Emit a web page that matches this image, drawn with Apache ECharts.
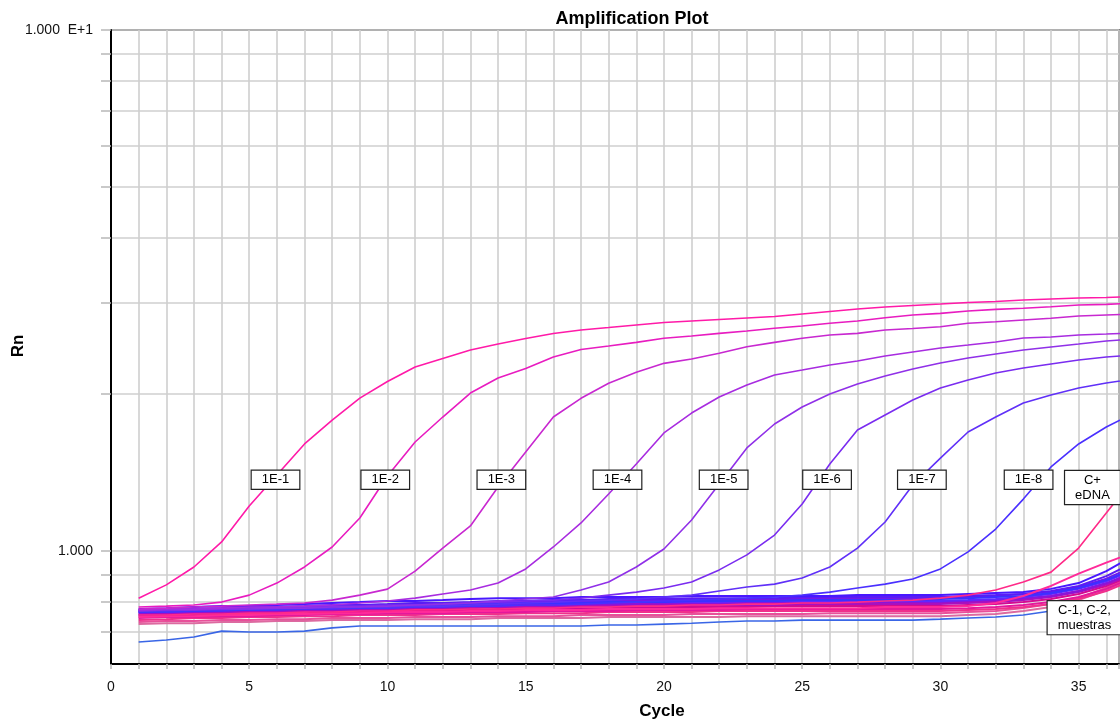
<!DOCTYPE html>
<html>
<head>
<meta charset="utf-8">
<script src="https://cdn.jsdelivr.net/npm/echarts@6/dist/echarts.min.js"></script>
<style>
html,body{margin:0;padding:0;background:#fff;}
#chart{width:1120px;height:720px;}
</style>
</head>
<body>
<div id="chart"></div>
<script>
// ---- data (Rn per cycle) ----
const cycles = [1,2,3,4,5,6,7,8,9,10,11,12,13,14,15,16,17,18,19,20,21,22,23,24,25,26,27,28,29,30,31,32,33,34,35,36,37];

const dil1 = [0.812,0.861,0.932,1.041,1.220,1.399,1.605,1.784,1.966,2.115,2.255,2.342,2.431,2.496,2.558,2.615,2.656,2.685,2.715,2.745,2.764,2.782,2.801,2.819,2.850,2.882,2.914,2.940,2.960,2.979,2.999,3.012,3.032,3.046,3.059,3.066,3.080];
const dil2 = [0.781,0.784,0.788,0.798,0.823,0.868,0.932,1.018,1.157,1.393,1.619,1.808,2.010,2.148,2.240,2.357,2.437,2.475,2.515,2.560,2.586,2.617,2.644,2.676,2.703,2.736,2.764,2.804,2.838,2.859,2.888,2.910,2.923,2.944,2.966,2.975,2.989];
const dil3 = [0.774,0.777,0.781,0.784,0.788,0.791,0.795,0.805,0.823,0.845,0.915,1.013,1.117,1.327,1.549,1.808,1.964,2.099,2.203,2.292,2.336,2.396,2.467,2.515,2.560,2.598,2.617,2.656,2.674,2.695,2.736,2.755,2.776,2.797,2.825,2.838,2.850];
const dil4 = [0.771,0.774,0.774,0.777,0.781,0.781,0.784,0.788,0.795,0.802,0.812,0.827,0.842,0.868,0.924,1.018,1.132,1.287,1.469,1.685,1.840,1.975,2.083,2.177,2.225,2.275,2.316,2.367,2.410,2.453,2.485,2.519,2.564,2.575,2.598,2.609,2.621];
const dil5 = [0.767,0.771,0.771,0.774,0.774,0.777,0.777,0.781,0.781,0.784,0.788,0.791,0.795,0.802,0.809,0.816,0.842,0.872,0.932,1.009,1.147,1.345,1.577,1.753,1.890,2.002,2.092,2.167,2.235,2.295,2.347,2.389,2.431,2.464,2.496,2.530,2.552];
const dil6 = [0.771,0.774,0.774,0.777,0.777,0.781,0.781,0.784,0.784,0.788,0.788,0.791,0.795,0.798,0.802,0.805,0.812,0.823,0.834,0.849,0.872,0.920,0.983,1.073,1.231,1.469,1.707,1.824,1.949,2.055,2.129,2.196,2.245,2.285,2.326,2.357,2.378];
const dil7 = [0.767,0.767,0.771,0.771,0.774,0.774,0.777,0.777,0.781,0.781,0.784,0.784,0.788,0.791,0.795,0.798,0.802,0.805,0.809,0.816,0.823,0.838,0.853,0.864,0.888,0.932,1.013,1.137,1.339,1.508,1.692,1.808,1.924,1.993,2.055,2.101,2.139];
const dil8 = [0.764,0.764,0.767,0.767,0.771,0.771,0.774,0.774,0.777,0.777,0.781,0.781,0.784,0.784,0.788,0.788,0.791,0.795,0.798,0.802,0.805,0.809,0.812,0.816,0.823,0.834,0.849,0.864,0.884,0.924,0.996,1.102,1.258,1.450,1.605,1.730,1.840];
const cPlus = [0.754,0.754,0.757,0.757,0.760,0.760,0.764,0.764,0.767,0.767,0.771,0.771,0.774,0.774,0.777,0.777,0.781,0.781,0.784,0.784,0.788,0.788,0.791,0.791,0.795,0.795,0.798,0.802,0.805,0.812,0.823,0.842,0.872,0.911,1.013,1.183,1.381];
const lowBlue = [0.669,0.675,0.684,0.702,0.699,0.699,0.702,0.712,0.718,0.718,0.718,0.718,0.718,0.718,0.718,0.718,0.718,0.721,0.721,0.724,0.727,0.731,0.734,0.734,0.737,0.737,0.737,0.737,0.737,0.740,0.744,0.747,0.754,0.767,0.781,0.795,0.812];

const band1 = [0.774,0.777,0.781,0.784,0.784,0.788,0.791,0.795,0.798,0.802,0.802,0.805,0.809,0.812,0.812,0.812,0.816,0.816,0.816,0.816,0.820,0.820,0.820,0.820,0.820,0.820,0.823,0.823,0.823,0.823,0.827,0.831,0.834,0.846,0.868,0.915,0.980];
const band2 = [0.771,0.771,0.774,0.777,0.781,0.781,0.784,0.788,0.788,0.791,0.795,0.795,0.798,0.802,0.802,0.805,0.805,0.809,0.809,0.809,0.812,0.812,0.812,0.812,0.816,0.816,0.816,0.816,0.816,0.816,0.820,0.823,0.827,0.838,0.857,0.895,0.950];
const band3 = [0.767,0.771,0.771,0.774,0.774,0.777,0.781,0.781,0.784,0.788,0.788,0.791,0.795,0.798,0.798,0.798,0.802,0.802,0.805,0.805,0.805,0.809,0.809,0.809,0.809,0.812,0.812,0.812,0.812,0.812,0.816,0.820,0.827,0.834,0.853,0.885,0.935];
const band4 = [0.764,0.767,0.767,0.771,0.774,0.774,0.777,0.777,0.781,0.784,0.784,0.788,0.791,0.791,0.795,0.795,0.795,0.798,0.798,0.798,0.802,0.802,0.802,0.802,0.805,0.805,0.805,0.805,0.805,0.809,0.812,0.816,0.820,0.831,0.849,0.880,0.925];
const band5 = [0.760,0.764,0.764,0.767,0.771,0.771,0.774,0.774,0.777,0.777,0.781,0.781,0.784,0.788,0.788,0.788,0.791,0.791,0.791,0.795,0.795,0.795,0.795,0.798,0.798,0.798,0.798,0.798,0.798,0.798,0.802,0.805,0.812,0.820,0.838,0.868,0.910];
const band6 = [0.754,0.757,0.760,0.760,0.764,0.764,0.767,0.767,0.771,0.771,0.774,0.774,0.777,0.781,0.781,0.781,0.784,0.784,0.784,0.788,0.788,0.788,0.788,0.788,0.791,0.791,0.791,0.791,0.791,0.791,0.795,0.798,0.805,0.816,0.834,0.862,0.905];
const band7 = [0.750,0.754,0.754,0.757,0.760,0.760,0.760,0.764,0.764,0.767,0.767,0.771,0.771,0.774,0.774,0.777,0.777,0.777,0.781,0.781,0.781,0.781,0.781,0.784,0.784,0.784,0.784,0.784,0.784,0.784,0.788,0.791,0.798,0.809,0.827,0.857,0.900];
const band8 = [0.747,0.750,0.750,0.754,0.754,0.757,0.757,0.760,0.760,0.764,0.764,0.764,0.767,0.767,0.771,0.771,0.771,0.774,0.774,0.774,0.774,0.777,0.777,0.777,0.777,0.777,0.777,0.781,0.781,0.781,0.784,0.795,0.820,0.857,0.905,0.950,0.995];
const band9 = [0.744,0.747,0.747,0.750,0.750,0.754,0.754,0.757,0.757,0.760,0.760,0.760,0.764,0.764,0.764,0.767,0.767,0.767,0.771,0.771,0.771,0.771,0.774,0.774,0.774,0.774,0.774,0.774,0.774,0.774,0.777,0.781,0.788,0.798,0.816,0.846,0.890];
const band10 = [0.737,0.740,0.744,0.744,0.747,0.747,0.750,0.750,0.754,0.754,0.754,0.757,0.757,0.757,0.760,0.760,0.760,0.764,0.764,0.764,0.764,0.767,0.767,0.767,0.767,0.767,0.767,0.767,0.767,0.767,0.771,0.774,0.781,0.791,0.809,0.838,0.880];
const band11 = [0.731,0.734,0.734,0.737,0.737,0.740,0.740,0.744,0.744,0.744,0.747,0.747,0.747,0.750,0.750,0.750,0.754,0.754,0.754,0.754,0.757,0.757,0.757,0.757,0.757,0.760,0.760,0.760,0.760,0.760,0.764,0.767,0.777,0.791,0.812,0.850,0.900];
const band12 = [0.724,0.727,0.727,0.731,0.731,0.734,0.734,0.737,0.737,0.737,0.740,0.740,0.740,0.744,0.744,0.744,0.744,0.747,0.747,0.747,0.747,0.747,0.750,0.750,0.750,0.750,0.750,0.750,0.750,0.750,0.754,0.757,0.767,0.781,0.805,0.842,0.890];
const band13 = [0.764,0.764,0.767,0.771,0.771,0.774,0.777,0.781,0.781,0.784,0.788,0.788,0.791,0.791,0.795,0.795,0.795,0.798,0.798,0.798,0.798,0.798,0.802,0.802,0.802,0.802,0.802,0.802,0.802,0.802,0.805,0.809,0.816,0.827,0.846,0.875,0.920];
const band14 = [0.757,0.760,0.760,0.764,0.767,0.767,0.771,0.771,0.774,0.774,0.777,0.777,0.781,0.784,0.784,0.784,0.788,0.788,0.788,0.788,0.791,0.791,0.791,0.791,0.791,0.795,0.795,0.795,0.795,0.795,0.798,0.802,0.809,0.820,0.838,0.866,0.908];

// label boxes: text, cycle, Rn
const labelTexts = ['1E-1','1E-2','1E-3','1E-4','1E-5','1E-6','1E-7','1E-8','C+\neDNA','C-1, C-2,\nmuestras'];
const labelCycles = [5.95,9.92,14.12,18.32,22.16,25.90,29.33,33.19,35.50,35.21];
const labelValues = [1.370,1.370,1.370,1.370,1.370,1.370,1.370,1.370,1.324,0.745];

const xTickLabels = [0,5,10,15,20,25,30,35];
const yGridValues = [0.7,0.8,0.9,1,2,3,4,5,6,7,8,9,10];
const yLabelValues = [1,10];

// ---- chart ----
const chart = echarts.init(document.getElementById('chart'), null, {renderer:'canvas'});
const toPts = arr => cycles.map((c,i)=>[c, arr[i]]);
const FONT = 'Liberation Sans, Arial, sans-serif';

const bandList = [
  [band12,'#dc6aa0'],[band11,'#e8509a'],[band10,'#f0308c'],[band9,'#e4189c'],
  [band7,'#d40a90'],[band14,'#c0109e'],[band6,'#a810c0'],[band5,'#8a14da'],
  [band3,'#7418e8'],[band13,'#6028ff'],[band2,'#5a1cf4'],[band4,'#3c30ff'],
  [band1,'#4818ff'],[band8,'#ff2a9a']
];
const mainList = [
  [lowBlue,'#3a66e6'],[cPlus,'#ff2a88'],
  [dil8,'#4a30ff'],[dil7,'#6030f8'],[dil6,'#7a2cf0'],[dil5,'#9030e8'],
  [dil4,'#a82ce0'],[dil3,'#c828d0'],[dil2,'#e81cc0'],[dil1,'#ff1aa8']
];

const series = [];
bandList.forEach(([arr,col]) => {
  series.push({
    type:'line', data: toPts(arr), showSymbol:false, symbol:'none',
    lineStyle:{color:col, width:2}, clip:true, animation:false, silent:true
  });
});
mainList.forEach(([arr,col]) => {
  series.push({
    type:'line', data: toPts(arr), showSymbol:false, symbol:'none',
    lineStyle:{color:col, width:1.6}, clip:true, animation:false, silent:true
  });
});
series.push({
  type:'scatter', symbolSize:1, itemStyle:{color:'rgba(0,0,0,0)', opacity:1},
  data: labelTexts.map((t,i)=>({value:[labelCycles[i], labelValues[i]], name:t})),
  label:{
    show:true, position:'inside', formatter: p => p.name, opacity:1,
    backgroundColor:'#ffffff', borderColor:'#222222', borderWidth:1.2,
    padding:[2,10,1,10], color:'#000000', fontSize:13, lineHeight:15,
    fontFamily:FONT, align:'center'
  },
  emphasis:{disabled:true},
  z:10, animation:false, silent:true
});

chart.setOption({
  animation:false,
  backgroundColor:'#fff',
  grid:{left:111, top:30, width:1008, height:634, containLabel:false, outerBoundsMode:'none',
    show:true, borderColor:'#222', borderWidth:1.5, backgroundColor:'transparent'},
  xAxis:{
    type:'value', min:0, max:36.46, interval:1,
    axisLine:{show:true, lineStyle:{color:'#000', width:2}},
    axisTick:{show:true, length:5, lineStyle:{color:'#b8b8b8', width:1.5}},
    splitLine:{show:true, lineStyle:{color:'#cfcfcf', width:1.6}},
    axisLabel:{show:true, customValues:xTickLabels, margin:16, color:'#111', fontSize:14, fontFamily:FONT}
  },
  yAxis:{
    type:'log', logBase:10, min:0.607, max:10,
    axisLine:{show:true, lineStyle:{color:'#000', width:2}},
    axisTick:{show:true, length:10, customValues:yGridValues, lineStyle:{color:'#b8b8b8', width:1.5}},
    splitLine:{show:true, lineStyle:{color:'#cfcfcf', width:1.6}},
    axisLabel:{show:true, customValues:yLabelValues, margin:18, color:'#111', fontSize:14, fontFamily:FONT,
      formatter: v => (Math.abs(v-10)<1e-6 ? '1.000  E+1' : '1.000')}
  },
  graphic:[
    {type:'text', x:632, y:19, style:{text:'Amplification Plot', font:'bold 18px "Liberation Sans", Arial, sans-serif', fill:'#000', textAlign:'center', textVerticalAlign:'middle'}},
    {type:'text', x:662, y:711, style:{text:'Cycle', font:'bold 17px "Liberation Sans", Arial, sans-serif', fill:'#000', textAlign:'center', textVerticalAlign:'middle'}},
    {type:'text', x:18, y:346, rotation:Math.PI/2, style:{text:'Rn', font:'bold 17px "Liberation Sans", Arial, sans-serif', fill:'#000', textAlign:'center', textVerticalAlign:'middle'}}
  ],
  series: series
});
</script>
</body>
</html>
